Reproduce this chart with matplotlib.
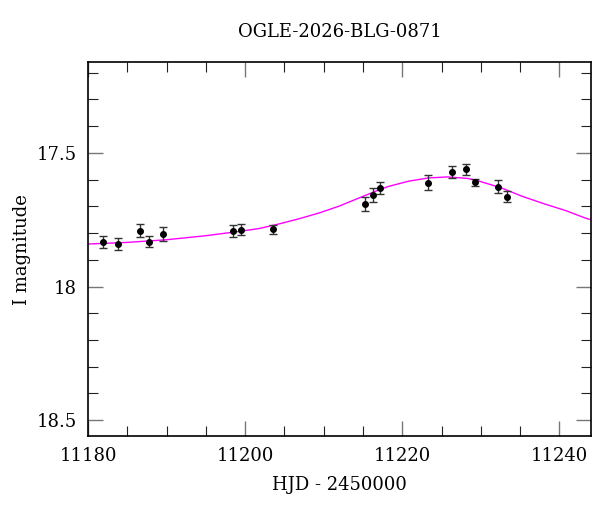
import numpy as np
import matplotlib
matplotlib.use("Agg")
import matplotlib.pyplot as plt
from matplotlib.ticker import MultipleLocator

plt.rcParams['font.family'] = ['DejaVu Serif']

# photometry (HJD - 2450000, I mag, error)
hjd = [11181.9, 11183.8, 11186.6, 11187.7, 11189.5, 11198.5, 11199.5, 11203.5,
       11215.3, 11216.3, 11217.2, 11223.3, 11226.3, 11228.1, 11229.2, 11232.2, 11233.3]
mag = [17.834, 17.841, 17.791, 17.832, 17.802, 17.791, 17.788, 17.786,
       17.690, 17.656, 17.632, 17.612, 17.571, 17.561, 17.610, 17.626, 17.664]
err = [0.023, 0.022, 0.025, 0.022, 0.026, 0.022, 0.020, 0.016,
       0.026, 0.026, 0.022, 0.028, 0.022, 0.020, 0.014, 0.023, 0.020]

# model curve
model_t = [11180, 11185, 11190, 11195, 11199.2, 11201.8, 11204.3, 11206.8, 11209.4,
           11211.9, 11214.4, 11216.9, 11218.2, 11220.8, 11223.3, 11225.8, 11228.4,
           11229.8, 11232.6, 11235.3, 11238.1, 11240.8, 11243.3, 11244]
model_m = [17.841, 17.835, 17.825, 17.810, 17.794, 17.783, 17.766, 17.747, 17.725,
           17.700, 17.670, 17.640, 17.626, 17.606, 17.594, 17.590, 17.596,
           17.606, 17.631, 17.663, 17.691, 17.716, 17.744, 17.750]

fig = plt.figure(figsize=(6, 5.12), dpi=100)
ax = fig.add_axes([0.1467, 0.148, 0.838, 0.731])

ax.plot(model_t, model_m, color='#ff00ff', lw=1.0, zorder=2)
ax.errorbar(hjd, mag, yerr=err, fmt='o', color='black', ms=4, ecolor='#333333',
            elinewidth=1.0, capsize=3, capthick=1.0, zorder=3)

ax.set_xlim(11180, 11244)
ax.set_ylim(18.56, 17.16)

ax.xaxis.set_major_locator(MultipleLocator(20))
ax.xaxis.set_minor_locator(MultipleLocator(5))
ax.yaxis.set_minor_locator(MultipleLocator(0.1))
ax.set_yticks([17.5, 18, 18.5])
ax.set_yticklabels(['17.5', '18', '18.5'])

ax.tick_params(which='both', direction='in', top=True, right=True, labelsize=13, pad=8)
ax.tick_params(which='major', length=11, width=1.0, color='#777777')
ax.tick_params(which='minor', length=7, width=0.8, color='#222222')
for s in ax.spines.values():
    s.set_linewidth(1.2)

ax.set_xlabel('HJD - 2450000', fontsize=13, labelpad=8)
ax.set_ylabel('I magnitude', fontsize=13, labelpad=4)
ax.set_title('OGLE-2026-BLG-0871', fontsize=13, pad=18)

fig.savefig('out.png', dpi=100)
